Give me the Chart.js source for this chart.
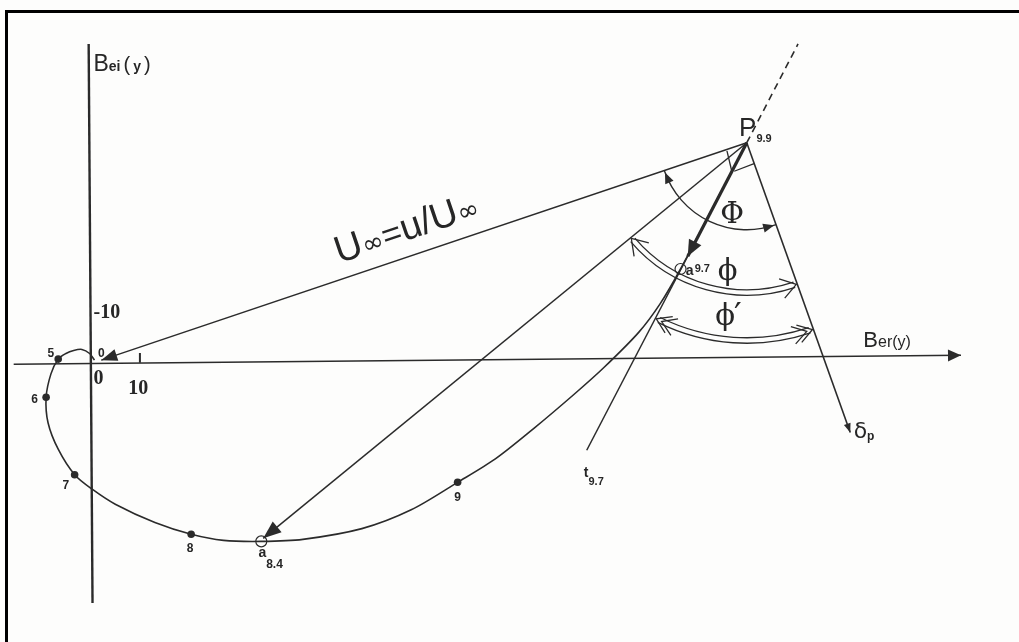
<!DOCTYPE html>
<html>
<head>
<meta charset="utf-8">
<title>Ber / Bei diagram</title>
<script src="https://cdn.jsdelivr.net/npm/chart.js@4.4.1/dist/chart.umd.min.js"></script>
<style>
  html, body { margin: 0; padding: 0; background: #fff; }
  #wrap  { position: relative; width: 1019px; height: 642px; overflow: hidden; background: #fdfdfc; }
  canvas { position: absolute; left: 0; top: 0; }
  #frame { position: absolute; left: 5px; top: 10px; right: -4px; bottom: -4px;
           border-top: 3px solid #000; border-left: 3px solid #000; pointer-events: none; }
</style>
</head>
<body>
<div id="wrap"><canvas id="diagram" width="1019" height="642"></canvas><div id="frame"></div></div>
<script>
'use strict';

/* ───── DATA (Ber / Bei units, one tick = 10) ─────────────────────────── */
const curveX = [0.6, -0.4, -2.0, -3.7, -5.3, -6.9, -8.4, -9.4, -9.0, -6.9, -3.5, 0.2, 4.9, 13.1,
                20.6, 27.3, 35.1, 43.7, 55.9, 66.1, 75.7, 83.5, 91.6, 99.8, 105.9, 113.1, 117.6, 121.8, 128.6, 135.5];
const curveY = [0.2, 1.5, 2.3, 2.1, 1.5, 0.4, -2.5, -7.1, -12.1, -17.3, -22.3, -25.2, -28.1, -31.7,
                -34.0, -35.2, -35.4, -35.0, -32.9, -29.2, -23.8, -19.2, -13.1, -6.5, -1.3, 5.6, 11.3, 18.1, 30.4, 42.9];

const dotLabels = ['5', '6', '7', '8', '9'];
const dotX      = [-6.9, -9.4, -3.5, 20.6, 75.7];
const dotY      = [0.4, -7.1, -22.3, -34.0, -23.8];

const ringLabels = ['a8.4', 'a9.7'];
const ringX      = [35.1, 121.8];
const ringY      = [-35.4, 18.1];

const pointP    = { x: 135.5, y: 42.9 };
const extension = { x: 146.1, y: 62.3 };          // dashed continuation past P

const rayNames = ['origin', 'a8.4', 'a9.7', 't9.7', 'delta'];
const rayEndX  = [2.0, 35.5, 123.3, 102.4, 156.9];
const rayEndY  = [0.2, -34.8, 20.6, -17.5, -14.0];

const axisBer = [{ x: -16.1, y: -0.6 }, { x: 179.8, y: 1.15 }];
const axisBei = [{ x: -0.6, y: 62.3 }, { x: 0.2, y: -47.5 }];

const X_MIN = -17.55, X_MAX = 190.41;
const Y_MIN = -53.85, Y_MAX = 69.62;

const INK = '#2b2b2b';
const ray = name => ({ x: rayEndX[rayNames.indexOf(name)], y: rayEndY[rayNames.indexOf(name)] });

/* ───── TEXT NOTES (anchored in data units) ──────────────────────────── */
const SANS  = '"Liberation Sans", Arial, sans-serif';
const SERIF = '"DejaVu Serif", "Liberation Serif", serif';
const notes = [
    { x: 0.4, y: 56.9, runs: [
        { t: 'B', f: `23px ${SANS}` }, { t: 'ei', f: `bold 14px ${SANS}` },
        { t: '(', f: `20px ${SANS}`, gap: 3 }, { t: 'y', f: `bold 14px ${SANS}`, gap: 3 },
        { t: ')', f: `20px ${SANS}`, gap: 3 }] },
    { x: 159.6, y: 2.7, runs: [
        { t: 'B', f: `22px ${SANS}` }, { t: 'er', f: `16px ${SANS}` },
        { t: '(', f: `16px ${SANS}` }, { t: 'y', f: `16px ${SANS}` }, { t: ')', f: `16px ${SANS}` }] },
    { x: 133.9, y: 44.2, runs: [{ t: 'P', f: `26px ${SANS}` }, { t: '9.9', f: `bold 11px ${SANS}`, dy: 6 }] },
    { x: 157.6, y: -15.0, runs: [{ t: 'δ', f: `22px "DejaVu Sans", sans-serif` }, { t: 'p', f: `bold 12px ${SANS}`, dy: 2 }] },
    { x: 101.8, y: -22.7, runs: [{ t: 't', f: `bold 14px ${SANS}` }, { t: '9.7', f: `bold 11px ${SANS}`, dy: 8 }] },
    { x: 34.5,  y: -38.5, runs: [{ t: 'a', f: `bold 14px ${SANS}` }, { t: '8.4', f: `bold 12px ${SANS}`, dy: 11 }] },
    { x: 122.9, y: 16.9,  runs: [{ t: 'a', f: `bold 14px ${SANS}` }, { t: '9.7', f: `bold 11px ${SANS}`, dy: -3, gap: 1 }] },
    { x: 130.0, y: 27.1, runs: [{ t: 'Φ', f: `29px ${SERIF}` }] },
    { x: 129.5, y: 16.0, runs: [{ t: 'ϕ', f: `29px ${SERIF}` }] },
    { x: 129.0, y: 7.1,  runs: [{ t: 'ϕ', f: `29px ${SERIF}` }, { t: '′', f: `34px ${SERIF}`, dy: 2, gap: -1 }] },
    { x: 0.4,  y: 8.5,  runs: [{ t: '-10', f: `bold 20px "Liberation Serif", serif` }] },
    { x: 0.4,  y: -4.4, runs: [{ t: '0', f: `bold 20px "Liberation Serif", serif` }] },
    { x: 7.6,  y: -6.5, runs: [{ t: '10', f: `bold 20px "Liberation Serif", serif` }] },
    { x: 2.0,  y: 0.8,  runs: [{ t: '0', f: `bold 12px ${SANS}` }], align: 'center' },
    { x: 51.2, y: 19.2, rot: -18.7, runs: [
        { t: 'U', f: `38px ${SANS}` }, { t: '∞', f: `26px "DejaVu Sans", sans-serif` },
        { t: '=', f: `34px ${SANS}` }, { t: 'u', f: `38px ${SANS}` }, { t: '/', f: `38px ${SANS}` },
        { t: 'U', f: `38px ${SANS}` }, { t: '∞', f: `26px "DejaVu Sans", sans-serif` }] },
];
const dotLabelDX = [-1.5, -2.4, -1.8, -0.2, 0.0];
const dotLabelDY = [0.4, -1.2, -2.9, -3.5, -3.7];

/* ───── DRAW HELPERS ─────────────────────────────────────────────────── */
function px(chart, p) {
    return { x: chart.scales.x.getPixelForValue(p.x), y: chart.scales.y.getPixelForValue(p.y) };
}

function arrowHead(ctx, from, to, len, half, filled) {
    const a = Math.atan2(to.y - from.y, to.x - from.x);
    const bx = to.x - len * Math.cos(a), by = to.y - len * Math.sin(a);
    ctx.beginPath();
    ctx.moveTo(bx + half * Math.sin(a), by - half * Math.cos(a));
    ctx.lineTo(to.x, to.y);
    ctx.lineTo(bx - half * Math.sin(a), by + half * Math.cos(a));
    if (filled) { ctx.closePath(); ctx.fill(); } else ctx.stroke();
}

function arcTip(ctx, c, r, a, dir, len, half, filled, back = 0) {
    const ta = a - dir * back / r;
    const tip  = { x: c.x + r * Math.cos(ta), y: c.y + r * Math.sin(ta) };
    const ba = ta - dir * len / r;
    const base = { x: c.x + r * Math.cos(ba), y: c.y + r * Math.sin(ba) };
    arrowHead(ctx, base, tip, len, half, filled);
}

function drawRuns(ctx, note, chart) {
    const p = px(chart, note);
    ctx.save();
    ctx.translate(p.x, p.y);
    if (note.rot) ctx.rotate(note.rot * Math.PI / 180);
    let total = 0;
    note.runs.forEach(r => { ctx.font = r.f; total += ctx.measureText(r.t).width + (r.gap || 0); });
    let x = note.align === 'center' ? -total / 2 : 0;
    ctx.textBaseline = 'alphabetic';
    ctx.textAlign = 'left';
    note.runs.forEach(r => {
        ctx.font = r.f;
        x += r.gap || 0;
        ctx.fillText(r.t, x, r.dy || 0);
        x += ctx.measureText(r.t).width;
    });
    ctx.restore();
}

/* ───── DIAGRAM PLUGIN: arrowheads, angle arcs, text ─────────────────── */
const diagramPlugin = {
    id: 'diagram',
    afterDatasetsDraw(chart) {
        const { ctx } = chart;
        const P = px(chart, pointP);
        ctx.save();
        ctx.strokeStyle = INK; ctx.fillStyle = INK;
        ctx.lineWidth = 1.5; ctx.lineJoin = 'miter';

        // straight arrowheads
        arrowHead(ctx, P, px(chart, ray('origin')), 16, 6, true);
        arrowHead(ctx, P, px(chart, ray('a8.4')), 18, 7, true);
        arrowHead(ctx, P, px(chart, ray('a9.7')), 16, 7, true);
        arrowHead(ctx, P, px(chart, ray('delta')), 9, 3.5, true);
        arrowHead(ctx, px(chart, axisBer[0]), px(chart, axisBer[1]), 13, 6, true);

        const ang = name => { const q = px(chart, ray(name)); return Math.atan2(q.y - P.y, q.x - P.x); };
        const aD = ang('delta'), aU = ang('origin'), aA = ang('a8.4'), aT = ang('t9.7');

        // Φ : single arc between U∞ and δp
        ctx.lineWidth = 1.4;
        ctx.beginPath(); ctx.arc(P.x, P.y, 87, aD, aU); ctx.stroke();
        arcTip(ctx, P, 87, aU, 1, 11, 4.5, true, 2);
        arcTip(ctx, P, 87, aD, -1, 11, 4.5, true, 2);

        // ϕ : double arc between the a8.4 ray and δp
        ctx.lineWidth = 1.3;
        [147, 152.5].forEach(r => { ctx.beginPath(); ctx.arc(P.x, P.y, r, aD + 0.02, aA - 0.02); ctx.stroke(); });
        arcTip(ctx, P, 150, aA, 1, 15, 10, false, 1);
        arcTip(ctx, P, 150, aD, -1, 15, 10, false, 1);

        // ϕ′ : double arc between tangent t9.7 and δp
        [195, 200.5].forEach(r => { ctx.beginPath(); ctx.arc(P.x, P.y, r, aD + 0.02, aT - 0.02); ctx.stroke(); });
        [1, 7].forEach(b => {
            arcTip(ctx, P, 198, aT, 1, 14, 9, false, b);
            arcTip(ctx, P, 198, aD, -1, 14, 9, false, b);
        });

        // text
        ctx.fillStyle = '#262626';
        notes.forEach(n => drawRuns(ctx, n, chart));
        dotLabels.forEach((t, i) => drawRuns(ctx, {
            x: dotX[i] + dotLabelDX[i], y: dotY[i] + dotLabelDY[i], align: 'center',
            runs: [{ t, f: `bold 12px ${SANS}` }] }, chart));
        ctx.restore();
    },
};

/* ───── DATASETS ─────────────────────────────────────────────────────── */
const seg = (pts, width, extra = {}) => ({
    data: pts, showLine: true, pointRadius: 0, borderColor: INK, borderWidth: width, tension: 0, ...extra,
});
const P0 = pointP;
const datasets = [
    seg(axisBer, 1.6),
    seg(axisBei, 2.4),
    seg([{ x: 10, y: -0.3 }, { x: 10, y: 1.6 }], 2),
    seg(curveX.map((x, i) => ({ x, y: curveY[i] })), 1.6, { tension: 0.3 }),
    seg([P0, extension], 1.6, { borderDash: [7, 5] }),
    seg([P0, ray('origin')], 1.5),
    seg([P0, ray('a8.4')], 1.5),
    seg([P0, ray('t9.7')], 1.5),
    seg([P0, ray('a9.7')], 3.2),
    seg([P0, ray('delta')], 1.6),
    seg([{ x: 131.4, y: 41.3 }, { x: 132.4, y: 37.3 }], 1.3),
    seg([{ x: 132.9, y: 37.3 }, { x: 137.0, y: 38.8 }], 1.3),
    { data: dotX.map((x, i) => ({ x, y: dotY[i] })), showLine: false,
      pointRadius: 3.8, pointBackgroundColor: INK, pointBorderColor: INK, pointBorderWidth: 0 },
    { data: ringX.map((x, i) => ({ x, y: ringY[i] })), showLine: false,
      pointRadius: 5.5, pointBackgroundColor: 'rgba(0,0,0,0)', pointBorderColor: INK, pointBorderWidth: 1.2 },
];

new Chart(document.getElementById('diagram').getContext('2d'), {
    type: 'scatter',
    data: { datasets },
    options: {
        responsive: false, animation: false,
        layout: { padding: 0 },
        plugins: { legend: { display: false }, tooltip: { enabled: false } },
        scales: {
            x: { type: 'linear', display: false, min: X_MIN, max: X_MAX },
            y: { type: 'linear', display: false, min: Y_MIN, max: Y_MAX },
        },
    },
    plugins: [diagramPlugin],
});
</script>
</body>
</html>
